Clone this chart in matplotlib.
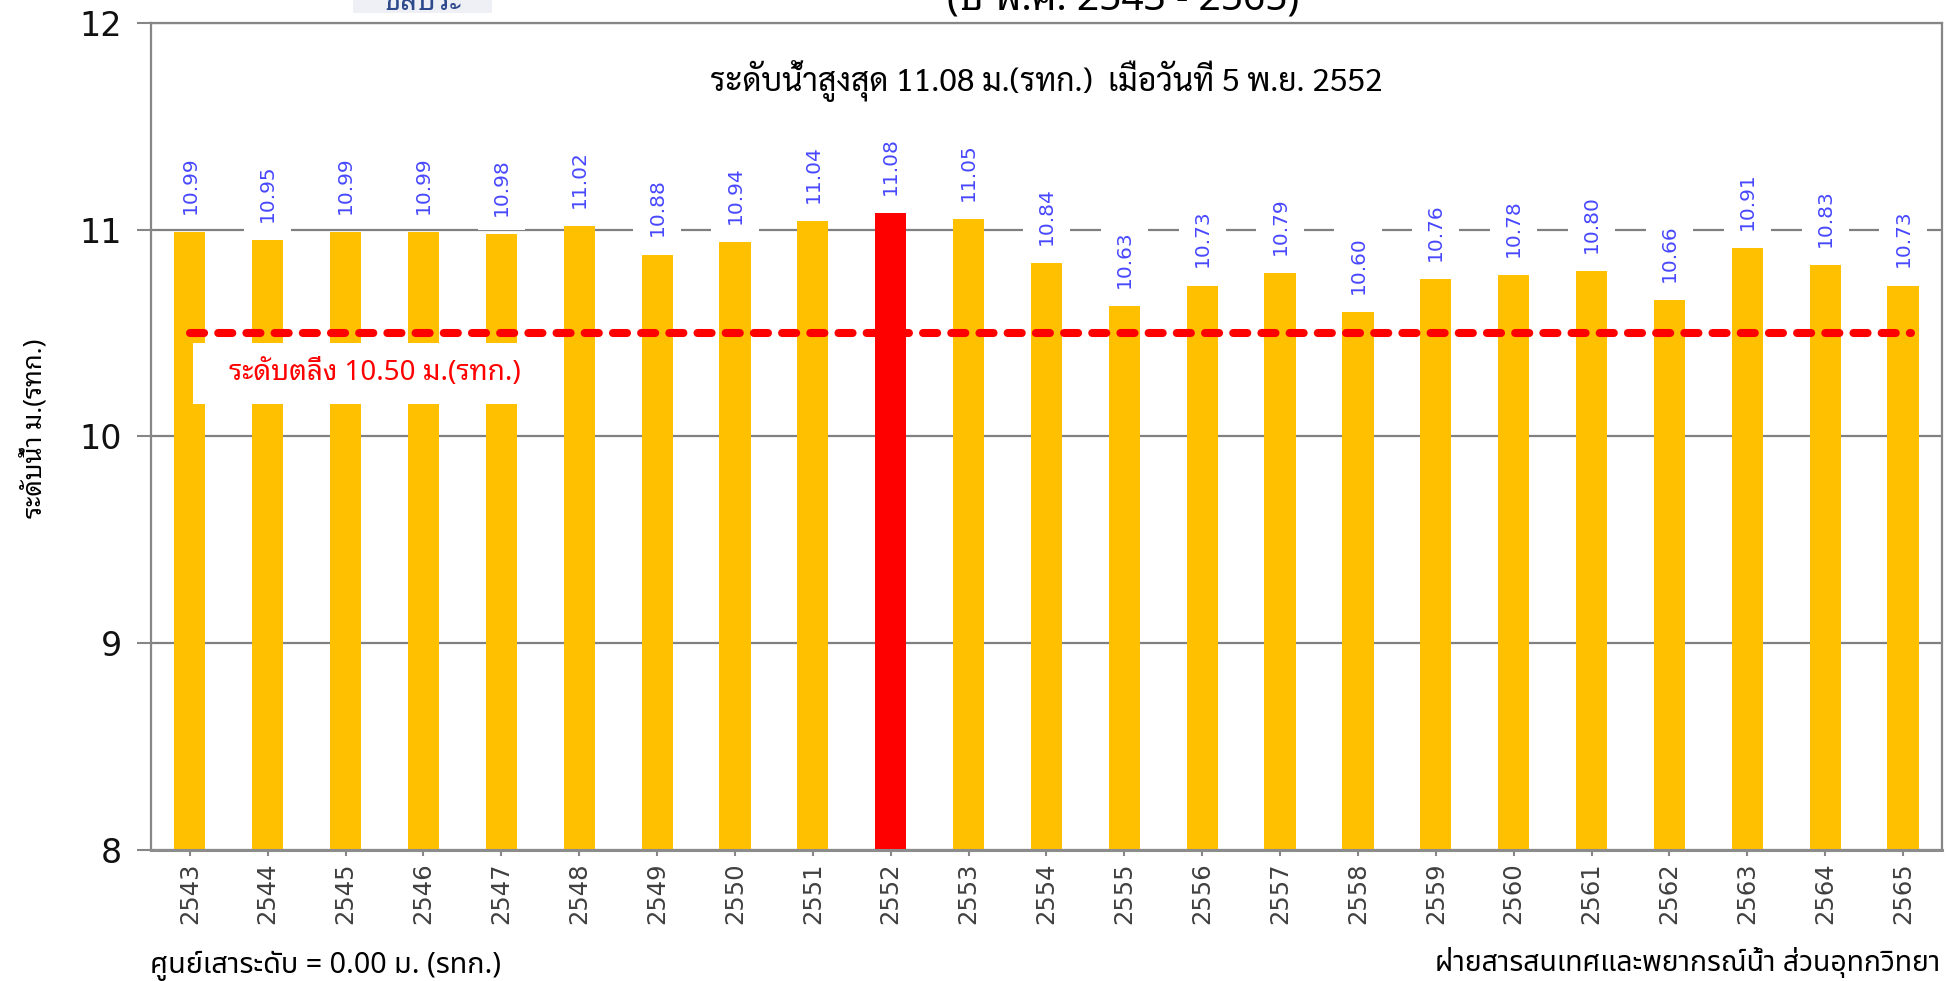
import matplotlib
matplotlib.use("Agg")
import matplotlib.pyplot as plt
from matplotlib import font_manager as fm
from matplotlib.patches import Rectangle

# ---------------- data ----------------
years = ["2543", "2544", "2545", "2546", "2547", "2548", "2549", "2550", "2551", "2552",
         "2553", "2554", "2555", "2556", "2557", "2558", "2559", "2560", "2561", "2562",
         "2563", "2564", "2565"]
levels = [10.99, 10.95, 10.99, 10.99, 10.98, 11.02, 10.88, 10.94, 11.04, 11.08,
          11.05, 10.84, 10.63, 10.73, 10.79, 10.60, 10.76, 10.78, 10.80, 10.66,
          10.91, 10.83, 10.73]
bank_level = 10.50
y_ticks = [8, 9, 10, 11, 12]

title_text = "(ปี พ.ศ. 2543 - 2565)"
logo_text = "ชลประ"
subtitle_text = "ระดับน้ำสูงสุด 11.08 ม.(รทก.)  เมื่อวันที่ 5 พ.ย. 2552"
bank_text = "ระดับตลิ่ง 10.50 ม.(รทก.)"
ylabel_text = "ระดับน้ำ ม.(รทก.)"
foot_left = "ศูนย์เสาระดับ = 0.00 ม. (รทก.)"
foot_right = "ฝ่ายสารสนเทศและพยากรณ์น้ำ ส่วนอุทกวิทยา"

# ---------------- fonts ----------------
names = {f.name for f in fm.fontManager.ttflist}


def pick(*cands):
    for c in cands:
        if c in names:
            return c
    return "DejaVu Sans"


DIG = "DejaVu Sans"
TH_LOOP = [pick("Noto Sans Thai Looped", "Sarabun", "Noto Sans Thai"), "DejaVu Sans"]
TH_PLAIN = [pick("Noto Sans Thai", "IBM Plex Sans Thai", "Sarabun"), "DejaVu Sans"]
TH_COND = [pick("Sarabun", "Noto Sans Thai Looped", "Noto Sans Thai"), "DejaVu Sans"]

# ---------------- figure ----------------
fig = plt.figure(figsize=(19.6, 9.81), dpi=100)
ax = fig.add_axes([0.0770, 0.1335, 0.9138, 0.8431])

x = list(range(len(years)))
imax = max(range(len(levels)), key=lambda i: levels[i])
colors = ["#FF0000" if i == imax else "#FFC000" for i in x]
ax.bar(x, [v - 8 for v in levels], bottom=8, width=0.4, color=colors, zorder=2)

ax.set_xlim(-0.5, len(years) - 0.5)
ax.set_ylim(8, 12)
ax.set_yticks(y_ticks)
ax.set_yticklabels([str(t) for t in y_ticks], fontsize=24, family=DIG, color="#111111")
ax.set_xticks(x)
ax.set_xticklabels(years, rotation=90, fontsize=17.5, family=DIG, color="#404040")
ax.tick_params(axis="y", length=10, width=1.5, color="#868686", pad=11)
ax.tick_params(axis="x", length=4, width=1.5, color="#868686", pad=5)
ax.yaxis.grid(True, color="#808080", linewidth=1.6, zorder=1)
ax.set_axisbelow(True)
for s in ["left", "top", "right"]:
    ax.spines[s].set_color("#868686")
    ax.spines[s].set_linewidth(1.6)
ax.spines["bottom"].set_color("#8C8C8C")
ax.spines["bottom"].set_linewidth(2.2)

# bank level line
ax.plot([0, len(years) - 0.9], [bank_level, bank_level], color="#FF0000", lw=5.8,
        linestyle=(0, (1.75, 1.75)), dash_capstyle="round", zorder=4)
ax.add_patch(Rectangle((0.04, 10.156), 4.5, 0.294, facecolor="white", edgecolor="none", zorder=5))
ax.text(2.38, 10.305, bank_text, color="#FF0000", fontsize=20, family=TH_LOOP,
        ha="center", va="center", zorder=6)

# value labels
for xi, v in zip(x, levels):
    ax.annotate(f"{v:.2f}", (xi, v), xytext=(0, 13), textcoords="offset points",
                rotation=90, ha="center", va="bottom", fontsize=14.5, family=DIG,
                color="#4747FF", zorder=6,
                bbox=dict(boxstyle="square,pad=0.7", facecolor="white", edgecolor="none"))

ax.text(0.5, 0.93, subtitle_text, transform=ax.transAxes, ha="center", va="center",
        fontsize=23, family=TH_COND, color="black")

ax.set_ylabel(ylabel_text, fontsize=18.5, family=TH_LOOP, color="black")
ax.yaxis.set_label_coords(-0.0578, 0.51)

fig.text(1123 / 1960, 1 - 10 / 981, title_text, ha="center", va="baseline",
         fontsize=28, family=TH_LOOP, color="black")
fig.patches.append(Rectangle((353 / 1960, 1 - 13 / 981), 139 / 1960, 13 / 981,
                             transform=fig.transFigure, facecolor="#EEF0F5",
                             edgecolor="none", zorder=0))
fig.text(423 / 1960, 1 - 10 / 981, logo_text, ha="center", va="baseline",
         fontsize=21, family=TH_LOOP, color="#2E4A8C", fontweight="bold")
fig.text(150 / 1960, 1 - 966 / 981, foot_left, ha="left", va="center",
         fontsize=20.7, family=TH_PLAIN, color="black")
fig.text(1940 / 1960, 1 - 962 / 981, foot_right, ha="right", va="center",
         fontsize=20.4, family=TH_PLAIN, color="black")

fig.savefig("out.png", dpi=100)
